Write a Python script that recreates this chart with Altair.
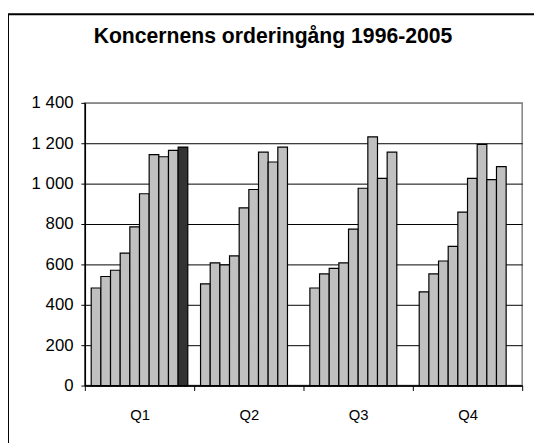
import altair as alt
import pandas as pd

title_text = "Koncernens orderingång 1996-2005"
quarters = ["Q1", "Q2", "Q3", "Q4"]
years = ["1996", "1997", "1998", "1999", "2000", "2001", "2002", "2003", "2004", "2005"]
q1 = [483, 540, 571, 656, 786, 950, 1144, 1133, 1165, 1181]
q2 = [504, 608, 598, 642, 880, 971, 1156, 1107, 1181]
q3 = [483, 553, 580, 608, 775, 977, 1232, 1026, 1156]
q4 = [464, 553, 617, 689, 859, 1026, 1194, 1020, 1084]
y_ticks = [0, 200, 400, 600, 800, 1000, 1200, 1400]

rows = []
for q, vals in zip(quarters, [q1, q2, q3, q4]):
    for yr, v in zip(years, vals):
        rows.append({"quarter": q, "year": yr, "value": v})
df = pd.DataFrame(rows)

FONT = "Liberation Sans"

bars = alt.Chart(df).mark_bar(stroke="black", strokeWidth=1.2).encode(
    x=alt.X(
        "quarter:N",
        sort=quarters,
        scale=alt.Scale(paddingInner=0, paddingOuter=0),
        axis=alt.Axis(
            title=None, labelAngle=0, tickBand="extent", grid=False,
            labelFont=FONT, labelFontSize=15, labelColor="black",
            labelPadding=17, tickSize=5, tickColor="black",
            domainColor="black", domainWidth=1.5,
        ),
    ),
    xOffset=alt.XOffset(
        "year:N",
        scale=alt.Scale(domain=years, paddingInner=0, paddingOuter=0.66),
    ),
    y=alt.Y(
        "value:Q",
        scale=alt.Scale(domain=[0, 1400], nice=False),
        axis=alt.Axis(
            title=None, values=y_ticks,
            labelExpr="replace(format(datum.value, ','), ',', ' ')",
            labelFont=FONT, labelFontSize=17, labelColor="black",
            labelPadding=8, tickSize=4, tickColor="black",
            domainColor="black", domainWidth=1.5,
            grid=True,
            gridColor={"condition": {"test": "datum.value == 1400", "value": "#808080"}, "value": "black"},
            gridWidth=1, gridOpacity=1,
        ),
    ),
    color=alt.condition("datum.year == '2005'", alt.value("#333333"), alt.value("#C0C0C0")),
)

border = alt.Chart(alt.Data(values=[{"b": 1}])).mark_rect(
    fill="transparent", stroke="black", strokeWidth=2
).encode(
    x=alt.value(-78), x2=alt.value(700), y=alt.value(-90), y2=alt.value(700)
)

title_mark = alt.Chart(alt.Data(values=[{"t": title_text}])).mark_text(
    font=FONT, fontSize=21.5, fontWeight="bold", align="center",
    baseline="alphabetic", color="black"
).encode(
    text="t:N", x=alt.value(191), y=alt.value(-61)
)

chart = alt.layer(border, bars, title_mark).properties(
    width=444, height=287,
    autosize=alt.AutoSizeParams(type="none"),
    padding={"left": 78, "top": 93, "right": 12, "bottom": 55},
).configure_view(stroke="#808080", strokeWidth=1.5)

chart.save("out.html", embed_options={"renderer": "svg", "actions": False})
